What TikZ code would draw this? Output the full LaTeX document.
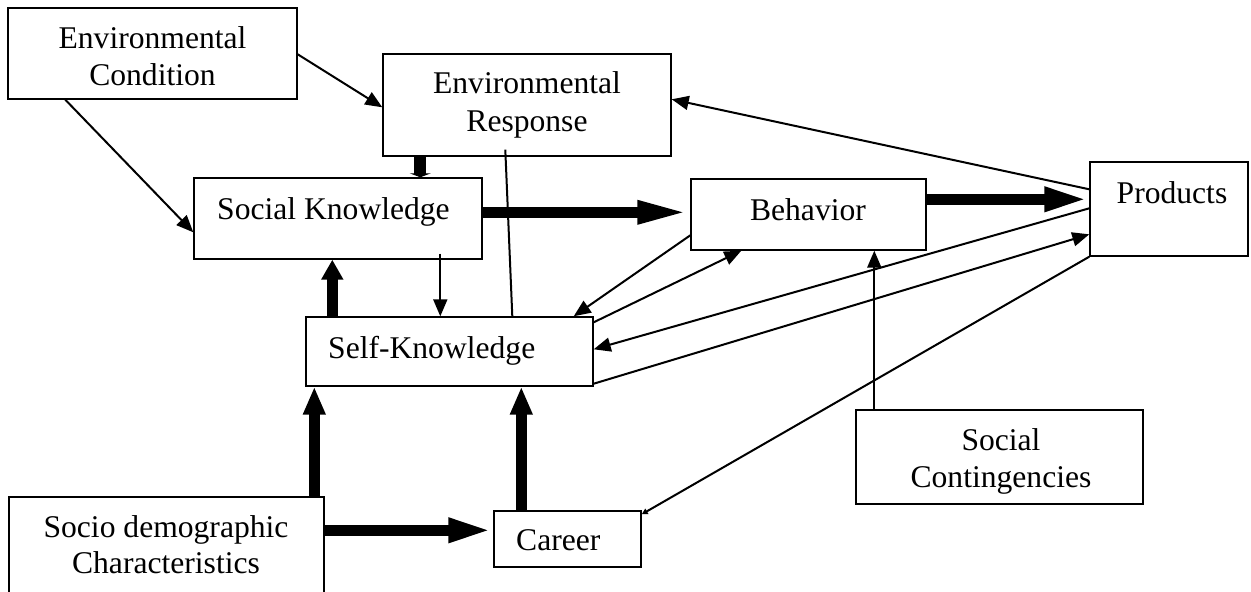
\documentclass[tikz,border=0pt]{standalone}
\usepackage{fontspec}
\setmainfont{Liberation Serif}
\usetikzlibrary{arrows.meta,calc}
\begin{document}
\begin{tikzpicture}[x=1pt,y=-1pt,
  box/.style={draw,line width=1.4pt,inner sep=0pt,rectangle},
  txt/.style={inner sep=0pt,font=\fontsize{31.6}{37}\selectfont,align=center},
  thinarrow/.style={line width=2pt,-{Triangle[length=17pt,width=14pt]}},
  plainline/.style={line width=2pt},
  thickh/.style={line width=11pt,-{Triangle[length=45pt,width=22pt]}},
  thickv/.style={line width=11pt,-{Triangle[length=28pt,width=21pt]}}]
\useasboundingbox (0,0) rectangle (1251,592);
% boxes
\node[box,minimum width=289pt,minimum height=91pt] (ec) at (152.5,53.5) {};
\node[box,minimum width=288pt,minimum height=102pt] (er) at (527,105) {};
\node[box,minimum width=288pt,minimum height=81pt] (sk) at (338,218.5) {};
\node[box,minimum width=235pt,minimum height=71pt] (beh) at (808.5,214.5) {};
\node[box,minimum width=158pt,minimum height=94pt] (prod) at (1169,209) {};
\node[box,minimum width=287pt,minimum height=69pt] (self) at (449.5,351.5) {};
\node[box,minimum width=287pt,minimum height=94pt] (sc) at (999.5,457) {};
\node[box,minimum width=315pt,minimum height=123pt] (sd) at (166.5,558.5) {};
\node[box,minimum width=147pt,minimum height=56pt] (car) at (567.5,539) {};
% texts
\node[txt,anchor=base] (tec1) at (152.5,48) {Environmental};
\node[txt,anchor=base] (tec2) at (152.5,85) {Condition};
\node[txt,anchor=base] (ter1) at (527,93) {Environmental};
\node[txt,anchor=base] (ter2) at (527,131) {Response};
\node[txt,anchor=base west] (tsk) at (217,219) {Social Knowledge};
\node[txt,anchor=base] (tbeh) at (808,220) {Behavior};
\node[txt,anchor=base] (tprod) at (1172,203) {Products};
\node[txt,anchor=base west] (tself) at (328,358) {Self-Knowledge};
\node[txt,anchor=base] (tsc1) at (1001,450) {Social};
\node[txt,anchor=base] (tsc2) at (1001,487) {Contingencies};
\node[txt,anchor=base] (tsd1) at (166,537) {Socio demographic};
\node[txt,anchor=base] (tsd2) at (166,573) {Characteristics};
\node[txt,anchor=base west] (tcar) at (516,550) {Career};
% connectors
\draw[thinarrow] ($(ec.north east)+(0,47)$) -- ($(er.north west)+(0,54)$);
\draw[thinarrow] ($(ec.south west)+(58,0)$) -- ($(sk.north west)+(0,55)$);
\draw[line width=12pt,-{Triangle[length=4pt,width=21pt]}] ($(er.south west)+(38,0)$) -- ($(sk.north west)+(227,0)$);
\draw[plainline] ($(er.south west)+(123,-7)$) -- ($(self.north west)+(207,0)$);
\draw[thickh,-{Triangle[length=53pt,width=21pt]}] ($(sk.north east)+(0,35)$) -- ($(beh.north west)+(0,34)$);
\draw[thinarrow] ($(sk.south west)+(247,-6)$) -- ($(self.north west)+(135,0)$);
\draw[thickv,-{Triangle[length=20pt,width=21pt]}] ($(self.north west)+(27,0)$) -- ($(sk.south west)+(139,0)$);
\draw[thickh] ($(beh.north east)+(0,21)$) -- ($(prod.north west)+(0,38)$);
\draw[thinarrow] ($(prod.north west)+(0,28)$) -- ($(er.north east)+(0,46)$);
\draw[thinarrow] ($(beh.north west)+(0,57)$) -- ($(self.north east)+(-20,0)$);
\draw[thinarrow] ($(self.north east)+(0,6)$) -- ($(beh.south west)+(51,0)$);
\draw[thinarrow] ($(prod.north west)+(0,47)$) -- ($(self.north east)+(0,33)$);
\draw[thinarrow] ($(self.south east)+(0,-3)$) -- ($(prod.north west)+(0,73)$);
\draw[plainline,-{Triangle[length=6pt,width=6pt]}] (prod.south west) -- ($(car.north east)+(0,4)$);
\draw[thinarrow] ($(sc.north west)+(19,0)$) -- ($(beh.south west)+(184,0)$);
\draw[thickv] ($(sd.north west)+(306,0)$) -- ($(self.south west)+(9,0)$);
\draw[thickv] ($(car.north west)+(28,0)$) -- ($(self.south west)+(216,0)$);
\draw[thickh] ($(sd.north east)+(0,34)$) -- ($(car.north west)+(0,20)$);
\end{tikzpicture}
\end{document}
